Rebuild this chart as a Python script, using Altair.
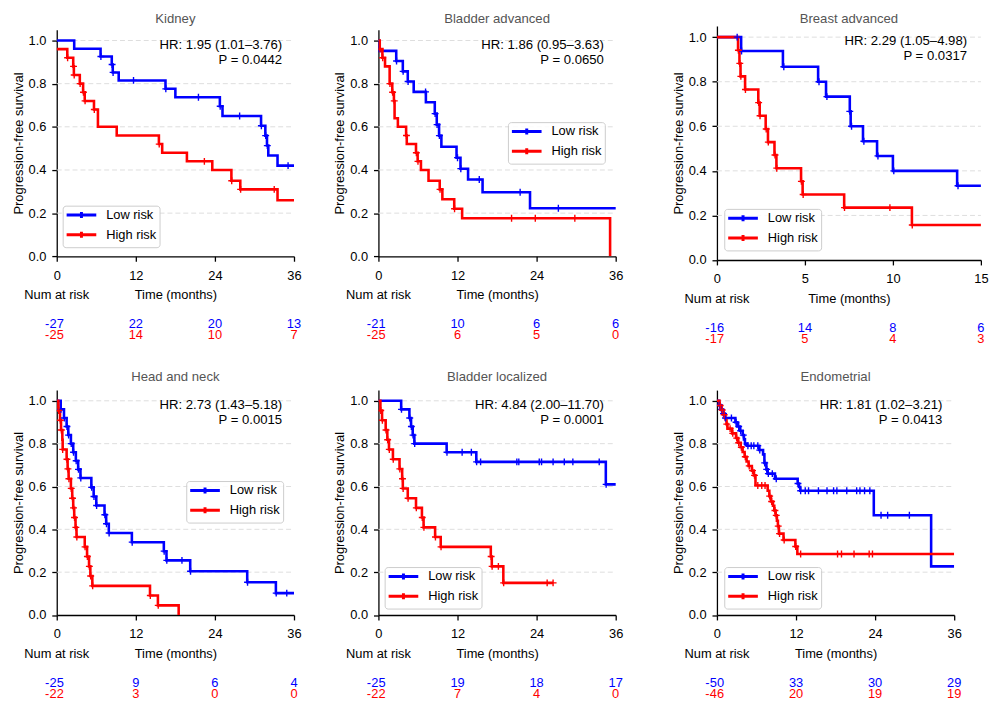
import altair as alt
import pandas as pd

FONT = "Liberation Sans"
BLUE = "#0000ff"
RED = "#ff0000"
GROUPS = ["Low risk", "High risk"]
PLUS = "M0,-1V1M-1,0H1"
LEG_SYMBOL = "M-3,0H3M0,-0.6V0.6"
Y_TICKS = [0.0, 0.2, 0.4, 0.6, 0.8, 1.0]
GRID_VALUES = [0.2, 0.4, 0.6, 0.8, 1.0]
TICKS_36 = [0, 12, 24, 36]
TICKS_15 = [0, 5, 10, 15]

# ---------------- Kidney ----------------
kidney_low = [(0, 1.0), (2.65, 0.962), (6.65, 0.926), (8.35, 0.889), (8.5, 0.852), (9.4, 0.815),
              (16.5, 0.776), (18.0, 0.737), (24.75, 0.695), (25.15, 0.650), (31.0, 0.605),
              (31.65, 0.559), (31.9, 0.513), (32.1, 0.467), (33.5, 0.420), (36.0, 0.420)]
kidney_low_cens = [6.7, 8.4, 8.55, 11.65, 16.55, 21.5, 24.8, 27.75, 31.05, 31.7, 31.95, 35.1]
kidney_high = [(0, 0.96), (1.6, 0.92), (2.5, 0.88), (2.6, 0.84), (3.5, 0.80), (4.0, 0.76),
               (4.25, 0.72), (5.65, 0.68), (6.25, 0.60), (9.1, 0.56), (15.5, 0.52), (16.0, 0.48),
               (19.75, 0.44), (23.6, 0.40), (26.5, 0.35), (27.85, 0.31), (33.5, 0.26), (36.0, 0.26)]
kidney_high_cens = [1.65, 2.55, 2.65, 3.55, 4.05, 4.3, 5.7, 15.55, 22.4, 26.55, 27.9, 33.0]
kidney_risk_low = [27, 22, 20, 13]
kidney_risk_high = [25, 14, 10, 7]
kidney_hr = ["HR: 1.95 (1.01–3.76)", "P = 0.0442"]

# ---------------- Bladder advanced ----------------
bladadv_low = [(0, 1.0), (0.1, 0.952), (2.7, 0.905), (3.7, 0.857), (4.45, 0.810), (5.35, 0.762),
               (7.2, 0.714), (8.55, 0.661), (8.85, 0.610), (9.2, 0.559), (9.55, 0.508),
               (11.85, 0.457), (12.45, 0.406), (13.6, 0.356), (15.8, 0.297), (23.0, 0.223),
               (36.0, 0.223)]
bladadv_low_cens = [2.75, 3.75, 4.5, 7.15, 8.6, 8.9, 9.25, 12.0, 12.5, 15.3, 21.5, 27.3]
bladadv_high = [(0, 1.0), (0.2, 0.96), (0.6, 0.92), (1.0, 0.88), (1.7, 0.80), (2.1, 0.76),
                (2.35, 0.72), (2.45, 0.64), (2.95, 0.60), (4.2, 0.56), (4.3, 0.52), (5.7, 0.48),
                (5.95, 0.44), (6.45, 0.40), (7.6, 0.35), (9.3, 0.31), (9.7, 0.264), (11.5, 0.22),
                (12.7, 0.176), (35.15, 0.0)]
bladadv_high_cens = [0.25, 0.65, 1.75, 2.15, 2.4, 4.25, 5.75, 6.0, 9.35, 11.55, 20.2, 23.8, 29.8]
bladadv_risk_low = [21, 10, 6, 6]
bladadv_risk_high = [25, 6, 5, 0]
bladadv_hr = ["HR: 1.86 (0.95–3.63)", "P = 0.0650"]

# ---------------- Breast advanced ----------------
breast_low = [(0, 1.0), (1.375, 0.9375), (3.75, 0.867), (5.75, 0.80), (6.2, 0.733), (7.55, 0.667),
              (7.6, 0.60), (8.3, 0.533), (9.1, 0.467), (10.0, 0.40), (13.65, 0.333), (15.0, 0.333)]
breast_low_cens = [1.15, 1.4, 3.8, 5.8, 6.25, 7.55, 7.65, 8.35, 9.15, 10.05, 13.7]
breast_high = [(0, 1.0), (1.2, 0.941), (1.28, 0.882), (1.34, 0.824), (1.6, 0.765), (2.35, 0.706),
               (2.43, 0.647), (2.77, 0.588), (2.9, 0.529), (3.27, 0.471), (3.38, 0.412),
               (4.78, 0.353), (4.87, 0.294), (7.23, 0.235), (11.08, 0.157), (15.0, 0.157)]
breast_high_cens = [1.22, 1.3, 1.36, 1.62, 2.37, 2.45, 2.8, 2.92, 3.3, 3.4, 4.8, 4.9, 7.25, 9.83, 11.1]
breast_risk_low = [16, 14, 8, 6]
breast_risk_high = [17, 5, 4, 3]
breast_hr = ["HR: 2.29 (1.05–4.98)", "P = 0.0317"]

# ---------------- Head and neck ----------------
hn_low = [(0, 1.0), (0.6, 0.96), (1.1, 0.92), (1.5, 0.88), (1.75, 0.84), (2.15, 0.80), (2.5, 0.76),
          (2.9, 0.72), (3.25, 0.68), (3.6, 0.64), (5.25, 0.596), (5.6, 0.553), (6.0, 0.511),
          (7.25, 0.468), (7.5, 0.426), (7.9, 0.383), (11.4, 0.34), (16.25, 0.298), (16.65, 0.255),
          (20.25, 0.204), (28.9, 0.153), (33.25, 0.102), (36.0, 0.102)]
hn_low_cens = [0.65, 1.15, 1.55, 1.8, 2.2, 2.55, 2.95, 3.3, 3.65, 5.3, 5.65, 6.05, 7.3, 7.55, 7.95,
               11.45, 16.3, 16.7, 19.0, 20.3, 28.95, 33.3, 34.9]
hn_high = [(0, 1.0), (0.25, 0.955), (0.5, 0.909), (0.65, 0.864), (0.85, 0.818), (0.9, 0.773),
           (1.5, 0.727), (1.65, 0.682), (1.8, 0.636), (2.15, 0.591), (2.35, 0.545), (2.5, 0.50),
           (2.65, 0.455), (2.85, 0.409), (3.0, 0.364), (4.25, 0.318), (4.6, 0.273), (4.9, 0.227),
           (5.1, 0.182), (5.4, 0.136), (14.15, 0.091), (15.35, 0.045), (18.5, 0.0)]
hn_high_cens = [0.3, 0.55, 0.7, 0.9, 1.55, 1.7, 1.85, 2.2, 2.4, 2.55, 2.7, 2.9, 3.05, 4.3, 4.65,
                4.95, 5.15, 5.45, 14.2, 15.4]
hn_risk_low = [25, 9, 6, 4]
hn_risk_high = [22, 3, 0, 0]
hn_hr = ["HR: 2.73 (1.43–5.18)", "P = 0.0015"]

# ---------------- Bladder localized ----------------
bladloc_low = [(0, 1.0), (3.45, 0.96), (4.7, 0.92), (4.95, 0.88), (5.2, 0.84), (5.45, 0.80),
               (10.35, 0.76), (14.85, 0.715), (34.5, 0.61), (36.0, 0.61)]
bladloc_low_cens = [3.5, 4.75, 5.0, 5.25, 5.5, 10.4, 12.7, 14.1, 14.9, 15.5, 21.0, 21.3, 24.4,
                    24.75, 26.5, 28.2, 29.5, 33.5, 34.55]
bladloc_high = [(0, 1.0), (0.3, 0.955), (0.55, 0.909), (1.1, 0.864), (1.35, 0.818), (1.6, 0.773),
                (2.2, 0.727), (3.2, 0.682), (3.6, 0.636), (3.7, 0.591), (4.45, 0.545), (5.7, 0.50),
                (6.6, 0.455), (6.85, 0.409), (8.6, 0.364), (9.45, 0.318), (17.05, 0.273),
                (17.2, 0.227), (18.95, 0.15), (26.5, 0.15)]
bladloc_high_cens = [0.35, 0.6, 1.15, 1.4, 1.65, 2.25, 3.25, 3.65, 3.75, 4.5, 5.75, 6.65, 6.9,
                     8.65, 9.5, 17.1, 17.25, 18.2, 19.0, 25.6, 26.5]
bladloc_risk_low = [25, 19, 18, 17]
bladloc_risk_high = [22, 7, 4, 0]
bladloc_hr = ["HR: 4.84 (2.00–11.70)", "P = 0.0001"]

# ---------------- Endometrial ----------------
endo_low = [(0, 1.0), (0.3, 0.98), (0.55, 0.96), (0.85, 0.94), (1.2, 0.92), (2.8, 0.90),
            (3.1, 0.88), (3.5, 0.86), (3.9, 0.84), (4.1, 0.82), (4.25, 0.80), (4.6, 0.79),
            (6.4, 0.77), (7.0, 0.75), (7.2, 0.71), (7.5, 0.68), (7.7, 0.66), (8.8, 0.636),
            (12.25, 0.614), (12.45, 0.598), (12.65, 0.58), (23.8, 0.466), (32.5, 0.227),
            (36.0, 0.227)]
endo_low_cens = [0.4, 0.7, 1.0, 1.3, 2.2, 2.9, 3.3, 3.6, 4.0, 4.7, 5.2, 5.6, 6.2, 6.5, 7.25,
                 7.55, 7.8, 8.4, 9.0, 12.3, 12.7, 13.4, 13.9, 15.4, 16.7, 17.7, 18.2, 19.7, 21.2,
                 21.7, 22.4, 23.2, 24.9, 25.9, 29.2]
endo_high = [(0, 1.0), (0.4, 0.978), (0.7, 0.957), (1.0, 0.935), (1.3, 0.913), (1.45, 0.891),
             (1.6, 0.87), (2.3, 0.848), (2.9, 0.826), (3.2, 0.804), (3.6, 0.783), (3.9, 0.761),
             (4.2, 0.739), (4.5, 0.717), (4.8, 0.696), (5.3, 0.674), (5.6, 0.652), (5.85, 0.605),
             (7.7, 0.58), (7.95, 0.555), (8.2, 0.53), (8.5, 0.51), (8.7, 0.488), (8.9, 0.465),
             (9.1, 0.44), (9.25, 0.415), (9.4, 0.38), (10.1, 0.35), (11.9, 0.32), (12.2, 0.285),
             (36.0, 0.285)]
endo_high_cens = [0.5, 0.8, 1.1, 1.5, 2.0, 2.4, 3.0, 3.3, 3.7, 4.3, 4.9, 5.4, 5.7, 6.2, 6.8, 7.3,
                  8.0, 8.3, 8.8, 9.0, 9.3, 9.5, 10.2, 11.95, 12.7, 18.3, 18.9, 20.8, 23.1, 23.6]
endo_risk_low = [50, 33, 30, 29]
endo_risk_high = [46, 20, 19, 19]
endo_hr = ["HR: 1.81 (1.02–3.21)", "P = 0.0413"]


def surv_at(steps, t):
    s = steps[0][1]
    for tt, ss in steps:
        if tt <= t:
            s = ss
        else:
            break
    return s


def panel(title, low, low_cens, high, high_cens, risk_low, risk_high, hr, ticks,
          width, range_w, height, legend_xy, title_offset, hr_right=12):
    xmax = ticks[-1]
    xs = alt.Scale(domain=[0, xmax], range=[0, range_w], nice=False, zero=False)
    ys = alt.Scale(domain=[0, 1.05], nice=False, zero=False)
    x_axis = alt.Axis(values=ticks, format="d", grid=False, domainColor="black", domainWidth=1.3,
                      tickColor="black", tickWidth=1.3, tickSize=5, labelPadding=8,
                      labelFontSize=13, labelColor="black", labelFlush=False,
                      titleFontSize=13, titleFontWeight="normal", titleColor="black",
                      titlePadding=7)
    y_axis = alt.Axis(values=Y_TICKS, format=".1f", grid=False, domainColor="black",
                      domainWidth=1.3, tickColor="black", tickWidth=1.3, tickSize=5,
                      labelPadding=6, labelFontSize=13, labelColor="black",
                      titleFontSize=13, titleFontWeight="normal", titleColor="black",
                      titlePadding=3)

    def X(field):
        return alt.X(field, type="quantitative", scale=xs, axis=x_axis, title="Time (months)")

    def Y(field):
        return alt.Y(field, type="quantitative", scale=ys, axis=y_axis,
                     title="Progression-free survival")

    cscale = alt.Scale(domain=GROUPS, range=[BLUE, RED])
    legend = alt.Legend(orient="none", legendX=legend_xy[0], legendY=legend_xy[1], title=None,
                        symbolType=LEG_SYMBOL, symbolSize=100, symbolStrokeWidth=3,
                        symbolOffset=9.5, labelOffset=18.5,
                        labelFontSize=13, labelFont=FONT, labelColor="black",
                        fillColor="rgba(255,255,255,0.85)", strokeColor="#cccccc",
                        padding=3, cornerRadius=3, rowPadding=1)

    rows = []
    cens_rows = []
    for g, steps, cens in (("Low risk", low, low_cens), ("High risk", high, high_cens)):
        for i, (t, s) in enumerate(steps):
            rows.append({"group": g, "t": t, "s": s, "i": i})
        for t in cens:
            cens_rows.append({"group": g, "t": t, "s": surv_at(steps, t)})
    curve = pd.DataFrame(rows)
    cdf = pd.DataFrame(cens_rows)

    gdf = pd.DataFrame({"v": GRID_VALUES, "x0": [0] * len(GRID_VALUES),
                        "x1": [xmax] * len(GRID_VALUES)})
    grid = alt.Chart(gdf).mark_rule(color="#dedede", strokeWidth=1, strokeDash=[5, 3]).encode(
        x=X("x0"), x2="x1", y=Y("v"))

    lines = alt.Chart(curve).mark_line(interpolate="step-after", strokeWidth=2.6, clip=True).encode(
        x=X("t"), y=Y("s"),
        color=alt.Color("group:N", scale=cscale, legend=legend),
        order=alt.Order("i:Q"))

    marks = alt.Chart(cdf).mark_point(shape=PLUS, size=49, strokeWidth=1.4, filled=False,
                                      opacity=1, clip=True).encode(
        x=X("t"), y=Y("s"),
        color=alt.Color("group:N", scale=cscale, legend=None))

    layers = [grid, lines, marks]
    for k, line in enumerate(hr):
        hdf = pd.DataFrame({"txt": [line]})
        layers.append(alt.Chart(hdf).mark_text(align="right", baseline="alphabetic",
                                               fontSize=13.3, color="black").encode(
            x=alt.value(range_w - hr_right), y=alt.value(19.5 + 15 * k), text="txt:N"))

    nar = alt.Chart(pd.DataFrame({"t": [0], "lab": ["Num at risk"]})).mark_text(
        fontSize=13, baseline="middle", align="center", color="black").encode(
        x=X("t"), y=alt.value(height + 39), text="lab:N")
    layers.append(nar)

    for vals, col, off in ((risk_low, BLUE, 68.5), (risk_high, RED, 80)):
        rdf = pd.DataFrame({"t": ticks, "n": [str(v) for v in vals]})
        layers.append(alt.Chart(rdf).mark_text(fontSize=13, baseline="middle", align="center",
                                               color=col).encode(
            x=X("t"), y=alt.value(height + off), text="n:N"))
        layers.append(alt.Chart(rdf.iloc[:1]).mark_text(text="-", fontSize=13, baseline="middle",
                                                        align="right", dx=-7.5, color=col).encode(
            x=X("t"), y=alt.value(height + off)))

    return alt.layer(*layers).properties(
        width=width, height=height,
        title=alt.TitleParams(text=title, fontSize=13.3, font=FONT, color="#555555",
                              fontWeight="normal", anchor="middle", frame="group",
                              offset=title_offset, baseline="bottom",
                              dx=(range_w - width) / 2))


p1 = panel("Kidney", kidney_low, kidney_low_cens, kidney_high, kidney_high_cens,
           kidney_risk_low, kidney_risk_high, kidney_hr, TICKS_36, 240, 240, 229.2, (6, 178), -9.8)
p2 = panel("Bladder advanced", bladadv_low, bladadv_low_cens, bladadv_high, bladadv_high_cens,
           bladadv_risk_low, bladadv_risk_high, bladadv_hr, TICKS_36, 256.6, 240, 229.2,
           (131, 93.5), -9.8)
p3 = panel("Breast advanced", breast_low, breast_low_cens, breast_high, breast_high_cens,
           breast_risk_low, breast_risk_high, breast_hr, TICKS_15, 267, 267, 236.7, (7.4, 185),
           -13.5, hr_right=14)
p4 = panel("Head and neck", hn_low, hn_low_cens, hn_high, hn_high_cens,
           hn_risk_low, hn_risk_high, hn_hr, TICKS_36, 240, 240, 227.5, (131, 92), -6.8)
p5 = panel("Bladder localized", bladloc_low, bladloc_low_cens, bladloc_high, bladloc_high_cens,
           bladloc_risk_low, bladloc_risk_high, bladloc_hr, TICKS_36, 256.6, 240, 227.5,
           (6.3, 179), -6.8)
p6 = panel("Endometrial", endo_low, endo_low_cens, endo_high, endo_high_cens,
           endo_risk_low, endo_risk_high, endo_hr, TICKS_36, 240, 240, 227.5, (7.4, 179), -6.8)

chart = alt.concat(
    p1, p2, p3, p4, p5, p6, columns=3,
    spacing={"row": 131.45, "column": 85.4},
    bounds="flush", align="each", center={"row": True},
).resolve_scale(color="independent").properties(
    padding={"left": 3.3, "top": 0, "right": 0, "bottom": 6}
).configure(font=FONT).configure_view(stroke=None)

chart.save("out.html", embed_options={"renderer": "svg", "actions": False})
